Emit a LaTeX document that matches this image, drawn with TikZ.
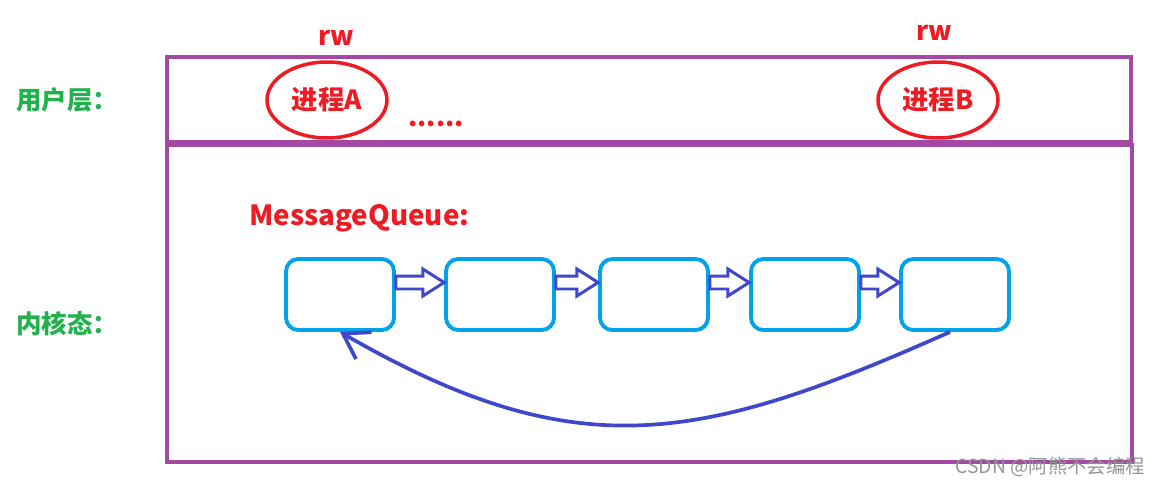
\documentclass[tikz,border=0pt]{standalone}
\usepackage{fontspec}
\setmainfont{Noto Sans CJK SC}
\usetikzlibrary{positioning, arrows.meta, shapes.geometric, shapes.arrows, calc}
\definecolor{layerpurple}{RGB}{163,73,164}
\definecolor{qcyan}{RGB}{0,162,232}
\definecolor{arrblue}{RGB}{63,72,204}
\definecolor{procred}{RGB}{237,28,36}
\definecolor{labelgreen}{RGB}{34,177,76}
\definecolor{markgray}{RGB}{150,150,150}
\tikzset{
  layer/.style={draw=layerpurple, line width=2.3pt},
  proc/.style={
    ellipse, draw=procred, line width=2pt, text=procred,
    font=\bfseries\fontsize{15}{18}\selectfont,
    minimum width=2.4cm, minimum height=1.52cm, inner sep=0pt
  },
  tag/.style={text=procred, font=\bfseries\fontsize{15}{18}\selectfont, inner sep=0pt},
  side/.style={text=labelgreen, font=\bfseries\fontsize{14.5}{17}\selectfont, inner sep=0pt, anchor=west},
  qbox/.style={
    draw=qcyan, line width=2.2pt, rounded corners=7pt,
    minimum width=2.16cm, minimum height=1.42cm, inner sep=0pt
  },
  flowarr/.style={
    single arrow, draw=arrblue, line width=1.7pt, inner xsep=0pt, inner ysep=0.1cm,
    single arrow head extend=0.14cm, single arrow tip angle=65, outer sep=0pt
  },
  loopback/.style={-{Straight Barb[length=0.48cm, width=0.62cm]}, draw=arrblue, line width=2.1pt}
}

\begin{document}
\begin{tikzpicture}[x=0.02cm, y=-0.02cm]
  \useasboundingbox (0,0) rectangle (1159,487);

  % layers
  \draw[layer] (167,57) rectangle (1131,142);
  \draw[layer] (167,145) rectangle (1132,462);
  \node[side] (user) at (16,100) {用户层：};
  \node[side] (kernel) at (16,324) {内核态：};

  % processes
  \node[proc] (pa) at (327,100) {进程A};
  \node[proc] (pb) at (938,100) {进程B};
  \node[tag] (rwa) at (336,38) {rw};
  \node[tag] (rwb) at (934,33) {rw};
  \node[tag] (dots) at (436,124) {......};

  % message queue
  \node[tag, anchor=west, font=\bfseries\fontsize{15.8}{19}\selectfont] (mq) at (249,218) {MessageQueue:};
  \foreach \i/\cx in {1/340, 2/500, 3/654, 4/805, 5/955}
    \node[qbox] (q\i) at (\cx,294.5) {};
  \foreach \i/\j in {1/2, 2/3, 3/4, 4/5}
    \path let \p1=(q\i.east), \p2=(q\j.west) in
      node[flowarr, minimum height=\x2-\x1, anchor=west] (ar\i) at ($(\p1)+(0,-12)$) {};
  \draw[loopback] ([xshift=-0.1cm]q5.south) to[out=204, in=330, looseness=1.15] (q1.south);

  \node[text=markgray, font=\fontsize{11}{13}\selectfont, anchor=east, inner sep=0pt] (mark) at (1145,467) {CSDN @阿熊不会编程};
\end{tikzpicture}
\end{document}
